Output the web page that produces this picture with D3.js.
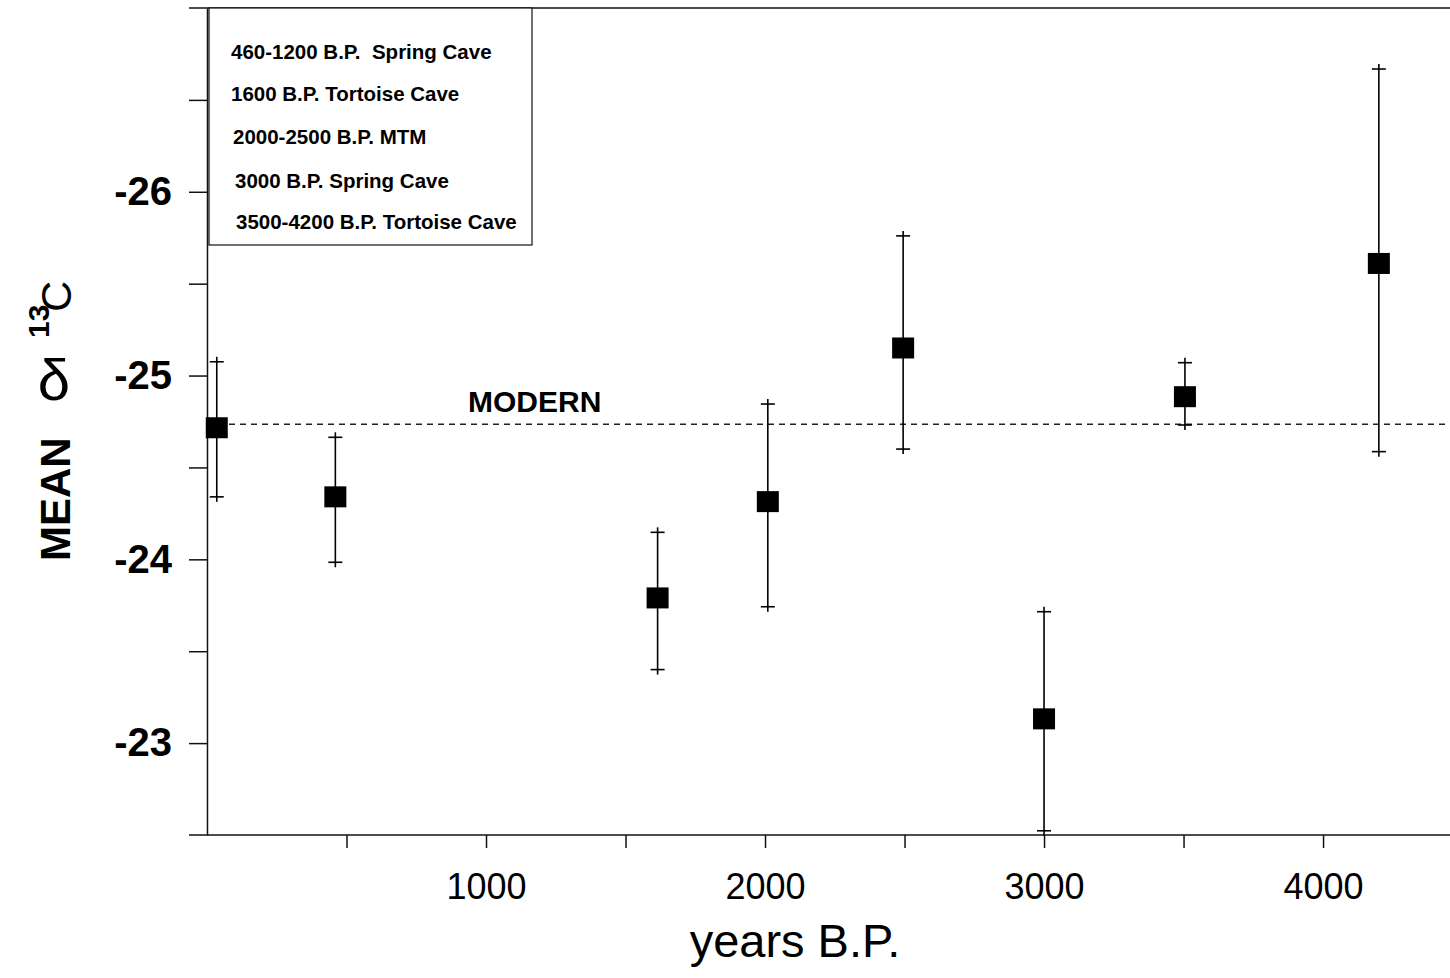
<!DOCTYPE html>
<html>
<head>
  <meta charset="utf-8" />
  <title>Mean d13C by years B.P.</title>
  <script src="https://d3js.org/d3.v7.min.js"></script>
  <style>
    body { margin: 0; background: #fff; }
    svg { display: block; font-family: "Liberation Sans", Arial, sans-serif; }
    .axis path, .axis line { stroke: #111; stroke-width: 1.5px; }
  </style>
</head>
<body>
  <div id="chart"></div>

  <script>
    // values
    const years = [35, 460, 1615, 2010, 2495, 3000, 3505, 4200];
    const meanD13C = [-24.716, -24.34, -23.79, -24.314, -25.15, -23.132, -24.885, -25.61];
    const errTop = [-25.075, -24.664, -24.147, -24.845, -25.76, -23.715, -25.07, -26.668];
    const errBottom = [-24.34, -23.984, -23.40, -23.742, -24.60, -22.523, -24.731, -24.586];
    const modernValue = -24.735;

    const legendLabels = [
      "460-1200 B.P.  Spring Cave",
      "1600 B.P. Tortoise Cave",
      "2000-2500 B.P. MTM",
      "3000 B.P. Spring Cave",
      "3500-4200 B.P. Tortoise Cave"
    ];
    const xTickValues = [500, 1000, 1500, 2000, 2500, 3000, 3500, 4000];
    const xTickLabels = ["", "1000", "", "2000", "", "3000", "", "4000"];
    const yTickValues = [-26.5, -26, -25.5, -25, -24.5, -24, -23.5, -23];
    const yTickLabels = ["", "-26", "", "-25", "", "-24", "", "-23"];

    const width = 1450;
    const height = 978;

    const svg = d3.select("#chart")
      .append("svg")
      .attr("width", width)
      .attr("height", height)
      .attr("viewBox", [0, 0, width, height]);

    svg.append("rect").attr("width", width).attr("height", height).attr("fill", "#fff");

    const x = d3.scaleLinear().domain([0, 4455]).range([207, 1450]);
    const y = d3.scaleLinear().domain([-27, -22.5]).range([8, 835]);

    // axes
    const xAxis = d3.axisBottom(x)
      .tickValues(xTickValues)
      .tickSize(13)
      .tickSizeOuter(0)
      .tickPadding(25)
      .tickFormat((d, i) => xTickLabels[i]);

    const yAxis = d3.axisLeft(y)
      .tickValues(yTickValues)
      .tickSize(18)
      .tickSizeOuter(0)
      .tickPadding(17)
      .tickFormat((d, i) => yTickLabels[i]);

    const gx = svg.append("g")
      .attr("class", "axis")
      .attr("transform", `translate(0,${y(-22.5)})`)
      .call(xAxis);
    gx.select(".domain").remove();
    gx.selectAll("text")
      .attr("fill", "#000")
      .style("font-size", "36px");

    const gy = svg.append("g")
      .attr("class", "axis")
      .attr("transform", `translate(${x(0)},0)`)
      .call(yAxis);
    gy.selectAll("text")
      .attr("fill", "#000")
      .style("font-size", "40px")
      .style("font-weight", "bold");

    // bottom and top frame lines, starting out at the tick length
    [-22.5, -27].forEach(v => {
      svg.append("line")
        .attr("x1", x(0) - 18).attr("x2", width)
        .attr("y1", y(v)).attr("y2", y(v))
        .attr("stroke", "#111").attr("stroke-width", 1.5);
    });

    // modern reference line
    svg.append("line")
      .attr("x1", x(0)).attr("x2", width)
      .attr("y1", y(modernValue)).attr("y2", y(modernValue))
      .attr("stroke", "#222")
      .attr("stroke-width", 1.4)
      .attr("stroke-dasharray", "6,5");

    svg.append("text")
      .attr("x", 468)
      .attr("y", y(modernValue) - 12)
      .style("font-size", "30px")
      .style("font-weight", "bold")
      .text("MODERN");

    // error bars
    const points = years.map((yr, i) => ({
      year: yr, mean: meanD13C[i], top: errTop[i], bottom: errBottom[i]
    }));

    const bars = svg.append("g")
      .attr("stroke", "#000")
      .attr("stroke-width", 1.6);

    bars.selectAll(".stem")
      .data(points)
      .join("line")
      .attr("x1", d => x(d.year)).attr("x2", d => x(d.year))
      .attr("y1", d => y(d.top) - 5)
      .attr("y2", d => y(d.bottom) + 5);

    bars.selectAll(".capTop")
      .data(points)
      .join("line")
      .attr("x1", d => x(d.year) - 7).attr("x2", d => x(d.year) + 7)
      .attr("y1", d => y(d.top)).attr("y2", d => y(d.top));

    bars.selectAll(".capBottom")
      .data(points)
      .join("line")
      .attr("x1", d => x(d.year) - 7).attr("x2", d => x(d.year) + 7)
      .attr("y1", d => y(d.bottom)).attr("y2", d => y(d.bottom));

    // mean markers
    svg.selectAll(".marker")
      .data(points)
      .join("rect")
      .attr("class", "marker")
      .attr("x", d => x(d.year) - 11)
      .attr("y", d => y(d.mean) - 10.5)
      .attr("width", 22)
      .attr("height", 21)
      .attr("fill", "#000");

    // legend box
    svg.append("rect")
      .attr("x", 209).attr("y", 8)
      .attr("width", 323).attr("height", 237)
      .attr("fill", "#fff")
      .attr("stroke", "#111")
      .attr("stroke-width", 1.2);

    const legendX = [231, 231, 233, 235, 236];
    const legendY = [59, 101, 144, 188, 229];
    svg.selectAll(".legend")
      .data(legendLabels)
      .join("text")
      .attr("class", "legend")
      .attr("x", (d, i) => legendX[i])
      .attr("y", (d, i) => legendY[i])
      .style("font-size", "20.5px")
      .style("font-weight", "bold")
      .attr("xml:space", "preserve")
      .text(d => d);

    // axis titles
    svg.append("text")
      .attr("x", 795).attr("y", 957)
      .attr("text-anchor", "middle")
      .style("font-size", "47px")
      .text("years B.P.");

    svg.append("text")
      .attr("transform", "translate(70,561) rotate(-90)")
      .style("font-size", "42px")
      .style("font-weight", "bold")
      .text("MEAN");

    svg.append("text")
      .attr("x", 54).attr("y", 400)
      .attr("text-anchor", "middle")
      .style("font-size", "58px")
      .text("δ");

    svg.append("text")
      .attr("transform", "translate(49,338) rotate(-90)")
      .style("font-size", "30px")
      .style("font-weight", "bold")
      .text("13");

    svg.append("text")
      .attr("transform", "translate(71,312) rotate(-90)")
      .style("font-size", "43px")
      .text("C");
  </script>
</body>
</html>
